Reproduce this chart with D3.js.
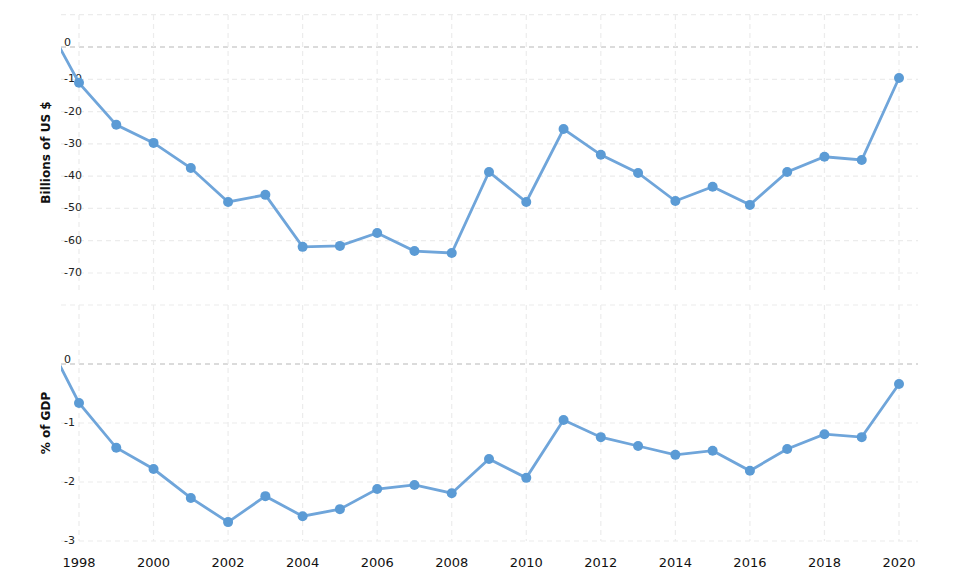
<!DOCTYPE html>
<html><head><meta charset="utf-8">
<script src="https://cdn.jsdelivr.net/npm/d3@7"></script>
<style>body{margin:0;background:#fff}text{font-family:"DejaVu Sans",Verdana,sans-serif}</style>
</head><body>
<svg id="chart" width="978" height="578"></svg>
<script>
// data (1997 is only the entry point of the line)
let years = [1997,1998,1999,2000,2001,2002,2003,2004,2005,2006,2007,2008,2009,2010,2011,2012,2013,2014,2015,2016,2017,2018,2019,2020];
let usdValues = [10,-11.1,-24.1,-29.7,-37.5,-48,-45.8,-61.9,-61.6,-57.6,-63.2,-63.8,-38.7,-48,-25.4,-33.4,-39,-47.7,-43.3,-48.9,-38.7,-34,-35,-9.6];
let gdpValues = [0.58,-0.66,-1.42,-1.78,-2.27,-2.68,-2.24,-2.58,-2.46,-2.12,-2.05,-2.19,-1.61,-1.93,-0.95,-1.24,-1.39,-1.54,-1.47,-1.81,-1.44,-1.19,-1.24,-0.34];
let usdTicks = [0,-10,-20,-30,-40,-50,-60,-70];
let gdpTicks = [0,-1,-2,-3];
let xTicks = [1998,2000,2002,2004,2006,2008,2010,2012,2014,2016,2018,2020];

const svg = d3.select("#chart");
const left = 61, right = 918;
const x = d3.scaleLinear().domain([1998, 2020]).range([79, 899]);
const lineColor = "#6fa5da", dotColor = "#5b9bd5";

function panel(id, values, ticks, yScale, top, bottom, gridVals, title) {
    svg.append("clipPath").attr("id", id)
        .append("rect").attr("x", left).attr("y", top - 10)
        .attr("width", right - left).attr("height", bottom - top + 20);

    // horizontal grid
    svg.append("g").selectAll("line").data(gridVals).enter().append("line")
        .attr("x1", left).attr("x2", right)
        .attr("y1", d => yScale(d)).attr("y2", d => yScale(d))
        .attr("stroke", d => d === 0 ? "#d0d0d0" : "#ececec")
        .attr("stroke-width", d => d === 0 ? 1.5 : 1.2)
        .attr("stroke-dasharray", "5,4");

    // vertical grid
    svg.append("g").selectAll("line").data(xTicks).enter().append("line")
        .attr("x1", d => x(d)).attr("x2", d => x(d))
        .attr("y1", top).attr("y2", bottom)
        .attr("stroke", "#ececec").attr("stroke-width", 1.2)
        .attr("stroke-dasharray", "5,4");

    svg.append("g").selectAll("text").data(ticks).enter().append("text")
        .attr("x", 64).attr("y", d => d === 0 ? yScale(d) - 1 : yScale(d) + 3)
        .attr("font-size", 11).attr("fill", "#222")
        .text(d => d);

    svg.append("text")
        .attr("transform", "translate(50," + ((top + bottom) / 2) + ") rotate(-90)")
        .attr("text-anchor", "middle").attr("font-size", 12).attr("font-weight", "bold")
        .attr("fill", "#111").text(title);

    const pts = years.map((yr, i) => ({ yr: yr, v: values[i] }));
    const g = svg.append("g").attr("clip-path", "url(#" + id + ")");
    g.append("path").datum(pts)
        .attr("d", d3.line().x(d => x(d.yr)).y(d => yScale(d.v)))
        .attr("fill", "none").attr("stroke", lineColor).attr("stroke-width", 2.8);
    g.selectAll("circle").data(pts.filter(d => d.yr >= 1998)).enter().append("circle")
        .attr("cx", d => x(d.yr)).attr("cy", d => yScale(d.v)).attr("r", 5)
        .attr("fill", dotColor);
}

const yTop = d3.scaleLinear().domain([0, -70]).range([47, 273]);
panel("clipTop", usdValues, usdTicks, yTop, 15, 290, [10,0,-10,-20,-30,-40,-50,-60,-70], "Billions of US $");

const yBot = d3.scaleLinear().domain([0, -3]).range([364, 541]);
panel("clipBot", gdpValues, gdpTicks, yBot, 305, 541, [1,0,-1,-2,-3], "% of GDP");

svg.append("g").selectAll("text").data(xTicks).enter().append("text")
    .attr("x", d => x(d)).attr("y", 567).attr("text-anchor", "middle")
    .attr("font-size", 13).attr("fill", "#111").text(d => d);
</script>
</body></html>
